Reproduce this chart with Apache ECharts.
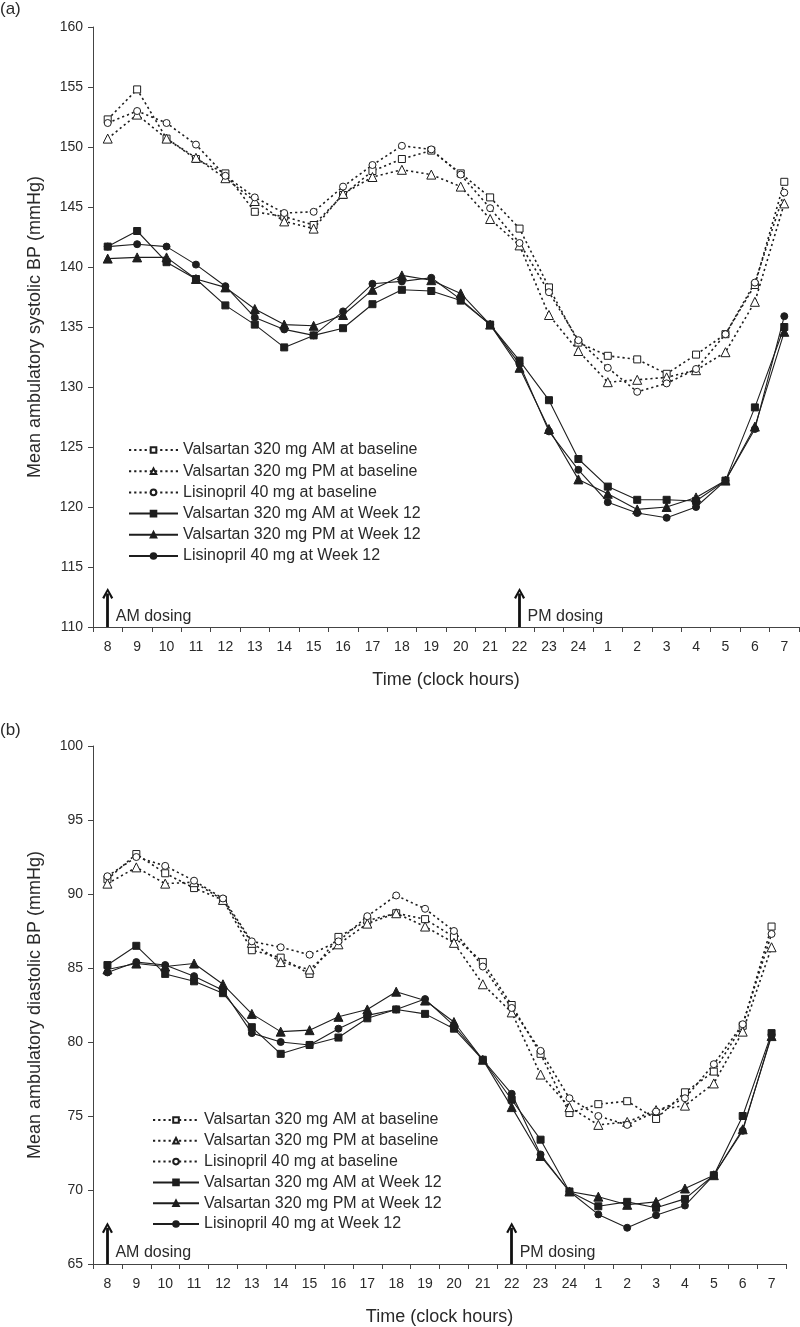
<!DOCTYPE html>
<html>
<head>
<meta charset="utf-8">
<script src="https://cdn.jsdelivr.net/npm/echarts@6/dist/echarts.min.js"></script>
<style>
html,body{margin:0;padding:0;background:#fff;}
#chart{width:800px;height:1327px;}
</style>
</head>
<body>
<div id="chart"></div>
<script>
// Clock hours (categories)
const hours = ['8','9','10','11','12','13','14','15','16','17','18','19','20','21','22','23','24','1','2','3','4','5','6','7'];

const seriesNames = [
  'Valsartan 320 mg AM at baseline',
  'Valsartan 320 mg PM at baseline',
  'Lisinopril 40 mg at baseline',
  'Valsartan 320 mg AM at Week 12',
  'Valsartan 320 mg PM at Week 12',
  'Lisinopril 40 mg at Week 12'
];

// (a) Systolic BP (mmHg)
const sysAMBase = [152.3,154.8,150.7,149.0,147.8,144.6,144.2,143.5,146.0,148.0,149.0,149.7,147.8,145.8,143.2,138.3,133.7,132.6,132.3,131.1,132.7,134.4,138.5,147.1];
const sysPMBase = [150.7,152.7,150.7,149.1,147.4,145.5,143.8,143.2,146.1,147.5,148.1,147.7,146.7,144.0,141.8,136.0,133.0,130.4,130.6,130.8,131.4,132.9,137.1,145.3];
const sysLisBase = [152.0,153.0,152.0,150.2,147.6,145.8,144.5,144.6,146.7,148.5,150.1,149.8,147.7,144.9,142.0,137.9,133.9,131.6,129.6,130.3,131.5,134.4,138.7,146.2];
const sysAMWk12 = [141.7,143.0,140.4,139.0,136.8,135.2,133.3,134.3,134.9,136.9,138.1,138.0,137.2,135.2,132.2,128.9,124.0,121.7,120.6,120.6,120.5,122.2,128.3,135.0];
const sysPMWk12 = [140.7,140.8,140.8,139.0,138.3,136.5,135.2,135.1,136.0,138.1,139.3,138.9,137.8,135.2,131.6,126.5,122.3,121.1,119.8,120.0,120.8,122.2,126.7,134.6];
const sysLisWk12 = [141.7,141.9,141.7,140.2,138.4,135.8,134.8,134.3,136.3,138.6,138.8,139.1,137.3,135.2,131.9,126.3,123.1,120.4,119.5,119.1,120.0,122.2,126.5,135.9];

// (b) Diastolic BP (mmHg)
const diaAMBase = [91.0,92.7,91.4,90.4,89.6,86.2,85.7,84.6,87.1,88.2,88.7,88.3,87.1,85.4,82.5,79.2,75.2,75.8,76.0,74.8,76.6,78.0,81.1,87.8];
const diaPMBase = [90.7,91.8,90.7,90.8,89.6,86.7,85.4,84.9,86.6,88.0,88.7,87.8,86.7,83.9,82.0,77.8,75.6,74.4,74.6,75.4,75.7,77.2,80.7,86.4];
const diaLisBase = [91.2,92.5,91.9,90.9,89.7,86.8,86.4,85.9,86.8,88.5,89.9,89.0,87.5,85.1,82.3,79.4,76.2,75.0,74.4,75.3,76.2,78.5,81.2,87.3];
const diaAMWk12 = [85.2,86.5,84.6,84.1,83.3,81.0,79.2,79.8,80.3,81.6,82.2,81.9,80.9,78.8,76.1,73.4,69.9,68.9,69.2,68.8,69.4,71.0,75.0,80.6];
const diaPMWk12 = [84.9,85.3,85.1,85.3,83.9,81.9,80.7,80.8,81.7,82.2,83.4,82.8,81.35,78.8,75.6,72.3,69.9,69.55,69.0,69.2,70.1,71.0,74.1,80.4];
const diaLisWk12 = [84.7,85.4,85.2,84.45,83.5,80.6,80.0,79.8,80.9,81.8,82.2,82.9,81.1,78.8,76.5,72.4,69.9,68.35,67.45,68.3,68.95,71.0,74.0,80.5];

// Dosing annotations: [category, arrow base, arrow tip, label value, label]
const doseA = [['8', 110, 112.8, 110.85, 'AM dosing'], ['22', 110, 112.8, 110.85, 'PM dosing']];
const doseB = [['8', 65, 67.45, 65.75, 'AM dosing'], ['22', 65, 67.45, 65.75, 'PM dosing']];

const ink = '#1e1e1e';
const txt = '#2a2a2a';
const FONT = 'Liberation Sans, Arial, Helvetica, sans-serif';
const chevron = 'path://M0,9 L5,0 L10,9 L8.2,10 L5,3.6 L1.8,10 Z';

function mk(name, data, gi, symbol, hollow) {
  const size = symbol === 'triangle' ? 9 : 7;
  return {
    type: 'line', name: name, data: data,
    xAxisIndex: gi, yAxisIndex: gi,
    symbol: symbol, symbolSize: size, showSymbol: true,
    itemStyle: { color: hollow ? '#fff' : ink, borderColor: ink, borderWidth: 1 },
    lineStyle: hollow ? { color: ink, width: 1.6, type: [2.2, 3] } : { color: ink, width: 1.1 },
    emphasis: { disabled: true },
    animation: false,
    z: hollow ? 3 : 4
  };
}

function doseSeries(gi, dose) {
  return {
    type: 'line', name: 'dose' + gi, data: [], xAxisIndex: gi, yAxisIndex: gi,
    silent: true, animation: false,
    markLine: {
      silent: true, animation: false,
      symbol: ['none', chevron], symbolSize: [11, 11],
      lineStyle: { color: '#111', width: 2.8, type: 'solid' },
      label: { show: false },
      data: dose.map(d => [{ coord: [d[0], d[1]] }, { coord: [d[0], d[2]] }])
    },
    markPoint: {
      silent: true, animation: false,
      symbol: 'circle', symbolSize: 0,
      label: { show: true, position: 'right', distance: 8, color: txt, fontSize: 16, fontFamily: FONT,
        formatter: p => p.name },
      data: dose.map(d => ({ name: d[4], coord: [d[0], d[3]] }))
    }
  };
}

const symbols = ['rect', 'triangle', 'circle', 'rect', 'triangle', 'circle'];
const hollowFlags = [true, true, true, false, false, false];
const sysData = [sysAMBase, sysPMBase, sysLisBase, sysAMWk12, sysPMWk12, sysLisWk12];
const diaData = [diaAMBase, diaPMBase, diaLisBase, diaAMWk12, diaPMWk12, diaLisWk12];

const series = [];
seriesNames.forEach((n, i) => series.push(mk(n, sysData[i], 0, symbols[i], hollowFlags[i])));
seriesNames.forEach((n, i) => series.push(mk(n, diaData[i], 1, symbols[i], hollowFlags[i])));
series.push(doseSeries(0, doseA));
series.push(doseSeries(1, doseB));

function xAx(gi) {
  return {
    type: 'category', gridIndex: gi, data: hours, boundaryGap: true,
    name: 'Time (clock hours)', nameLocation: 'middle', nameGap: 44,
    nameTextStyle: { fontSize: 18, color: txt, fontFamily: FONT },
    axisLine: { lineStyle: { color: '#444', width: 1 } },
    axisTick: { show: true, inside: false, length: 5, alignWithLabel: false, lineStyle: { color: '#444' } },
    axisLabel: { fontSize: 14, color: txt, margin: 13, interval: 0, fontFamily: FONT },
    splitLine: { show: false }
  };
}
function yAx(gi, min, max, name) {
  return {
    type: 'value', gridIndex: gi, min: min, max: max, interval: 5,
    name: name, nameLocation: 'middle', nameGap: 49,
    nameTextStyle: { fontSize: 18, color: txt, fontFamily: FONT },
    axisLine: { show: true, lineStyle: { color: '#444', width: 1 } },
    axisTick: { show: true, inside: false, length: 5, lineStyle: { color: '#444' } },
    axisLabel: { fontSize: 14, color: txt, margin: 10, fontFamily: FONT },
    splitLine: { show: false }
  };
}

function legend(left, top, itemWidth, gap) {
  return {
    orient: 'vertical', left: left, top: top, data: seriesNames,
    itemWidth: itemWidth, itemHeight: 7, itemGap: gap, padding: 0,
    selectedMode: false,
    textStyle: { fontSize: 16, color: txt, fontFamily: FONT }
  };
}

const option = {
  backgroundColor: '#fff',
  animation: false,
  textStyle: { fontFamily: FONT },
  title: [
    { text: '(a)', left: 0, top: 1, padding: 0, textStyle: { fontSize: 17, fontWeight: 'normal', color: txt, fontFamily: FONT } },
    { text: '(b)', left: 0, top: 722, padding: 0, textStyle: { fontSize: 17, fontWeight: 'normal', color: txt, fontFamily: FONT } }
  ],
  grid: [
    { left: 93, top: 27, width: 706, height: 600 },
    { left: 93, top: 746, width: 693, height: 519 }
  ],
  xAxis: [xAx(0), xAx(1)],
  yAxis: [yAx(0, 110, 160, 'Mean ambulatory systolic BP (mmHg)'), yAx(1, 65, 100, 'Mean ambulatory diastolic BP (mmHg)')],
  legend: [legend(128, 442, 49, 5.2), legend(152, 1112, 46, 4.8)],
  series: series
};

const chart = echarts.init(document.getElementById('chart'), null, { renderer: 'canvas' });
chart.setOption(option);
</script>
</body>
</html>
